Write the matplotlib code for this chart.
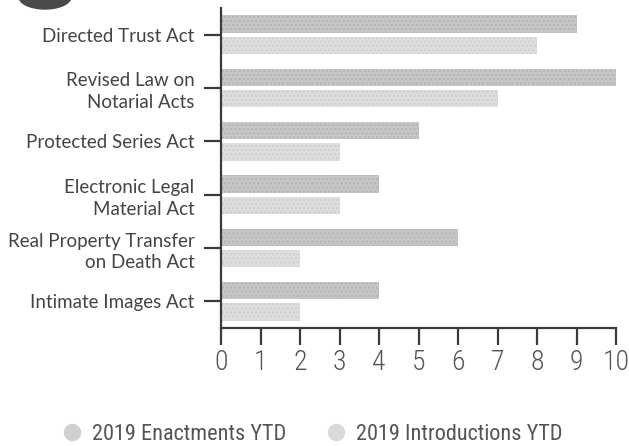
import matplotlib
matplotlib.use("Agg")
import matplotlib.pyplot as plt
import numpy as np
from matplotlib.patches import Ellipse
from matplotlib.lines import Line2D

# data
acts = ["Directed Trust Act", "Revised Law on\nNotarial Acts", "Protected Series Act",
        "Electronic Legal\nMaterial Act", "Real Property Transfer\non Death Act",
        "Intimate Images Act"]
enactments = [9, 10, 5, 4, 6, 4]
introductions = [8, 7, 3, 3, 2, 2]
x_ticks = list(range(0, 11))

enact_color = "#c6c6c6"
intro_color = "#dedede"
axis_color = "#3a3a3a"
label_font = ["Lato", "DejaVu Sans"]
num_font = ["Roboto Condensed", "Liberation Sans Narrow", "Roboto", "DejaVu Sans"]

W, H = 629, 446
fig = plt.figure(figsize=(W / 100, H / 100), dpi=100)
ax = fig.add_axes([221 / W, 1 - 328 / H, (616 - 221) / W, (328 - 8) / H])

y = np.arange(len(acts))
h = 0.32
ax.barh(y - 0.2, enactments, height=h, color=enact_color, hatch="....",
        edgecolor="#b4b4b4", linewidth=0, label="2019 Enactments YTD")
ax.barh(y + 0.2, introductions, height=h, color=intro_color, hatch="....",
        edgecolor="#cdcdcd", linewidth=0, label="2019 Introductions YTD")

ax.set_xlim(0, 10)
ax.set_ylim(len(acts) - 0.5, -0.5)
ax.set_yticks(y)
ax.set_yticklabels(acts, family=label_font, fontsize=13.5, color="#444444",
                   linespacing=1.35)
ax.set_xticks(x_ticks)
ax.set_xticklabels([str(v) for v in x_ticks], family=num_font, fontsize=20,
                   color="#555555", fontweight="light")

for s in ["top", "right"]:
    ax.spines[s].set_visible(False)
for s in ["left", "bottom"]:
    ax.spines[s].set_color(axis_color)
    ax.spines[s].set_linewidth(1.6)
ax.tick_params(axis="y", length=12, width=1.6, color=axis_color, pad=7)
ax.tick_params(axis="x", length=12, width=1.6, color=axis_color, pad=3)

# dark blob cut off at the top-left corner
fig.patches.append(Ellipse((45 / W, 1 + 3 / H), 52 / W, 24 / H,
                           transform=fig.transFigure, color="#4a4a4a"))

handles = [
    Line2D([], [], marker="o", linestyle="none", markersize=12.5,
           markerfacecolor="#cfcfcf", markeredgecolor="none"),
    Line2D([], [], marker="o", linestyle="none", markersize=12.5,
           markerfacecolor="#d9d9d9", markeredgecolor="none"),
]
fig.legend(handles, ["2019 Enactments YTD", "2019 Introductions YTD"],
           loc="center", bbox_to_anchor=(312 / W, 1 - 434 / H), ncol=2,
           frameon=False, handletextpad=0.4, columnspacing=1.75,
           handlelength=1.0, prop={"family": num_font, "size": 16},
           labelcolor="#555555")

fig.savefig("out.png", dpi=100)
